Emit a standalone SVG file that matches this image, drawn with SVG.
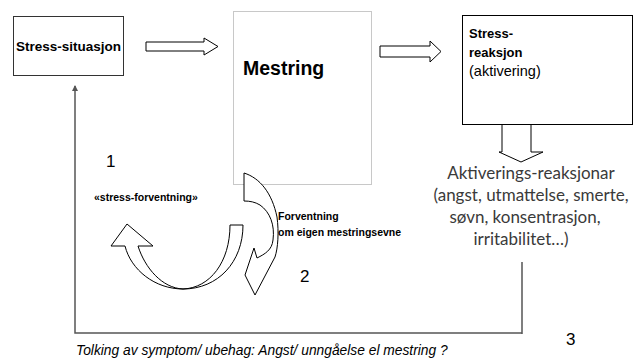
<svg xmlns="http://www.w3.org/2000/svg" width="643" height="360" viewBox="0 0 643 360">
<style>
.box{fill:#fff;stroke:#333;stroke-width:1}
.blk{fill:#fff;stroke:#000;stroke-width:1;stroke-linejoin:miter}
.ln{fill:none;stroke:#555;stroke-width:1.5}
.b{font-family:"Liberation Sans",Arial,sans-serif;font-weight:bold;fill:#000}
.r{font-family:"Liberation Sans",Arial,sans-serif;fill:#000}
.g{font-family:Lato,"Liberation Sans",sans-serif;fill:#3a3a3a;font-size:17px}
.num{font-family:"Liberation Sans",Arial,sans-serif;font-size:17px;fill:#000}
</style>
<defs>
<marker id="ah" markerWidth="6" markerHeight="6" refX="5" refY="3" orient="auto" markerUnits="userSpaceOnUse">
<path d="M0,0 L6,3 L0,6 Z" fill="#555"/>
</marker>
</defs>
<rect width="643" height="360" fill="#fff"/>

<g id="connectors">
<path class="ln" d="M522,262 L522,334"/>
<path class="ln" d="M522,333 L75,333 L75,86" marker-end="url(#ah)"/>
<path id="arrow1" class="blk" d="M146,42 L204,42 L204,38 L218,46.5 L204,55 L204,51 L146,51 Z"/>
<path id="arrow2" class="blk" d="M380,46 L430,46 L430,41 L441,51.5 L430,62 L430,57 L380,57 Z"/>
<path id="arrow3" class="blk" d="M502,124 L531,124 L531,152 L543,152 L521,162 L499,152 L502,152 Z"/>
</g>

<g id="stress-situasjon">
<rect class="box" x="13.5" y="16.5" width="110" height="59"/>
<text class="b" x="68.5" y="51" font-size="13.5" text-anchor="middle">Stress-situasjon</text>
</g>

<g id="mestring">
<rect x="233.5" y="11.5" width="138" height="173" fill="#fff" stroke="#c8c8c8" stroke-width="1"/>
<text class="b" x="243" y="75" font-size="19.5">Mestring</text>
</g>

<g id="stress-reaksjon">
<rect x="462.5" y="15.5" width="170" height="109" fill="#fff" stroke="#000" stroke-width="1"/>
<text class="b" x="469" y="38" font-size="13">Stress-</text>
<text class="b" x="469" y="57" font-size="13">reaksjon</text>
<text class="r" x="469" y="76" font-size="14.5">(aktivering)</text>
</g>

<g id="aktivering">
<text class="g" x="531" y="179" text-anchor="middle">Aktiverings-reaksjonar</text>
<text class="g" x="531" y="201" text-anchor="middle">(angst, utmattelse, smerte,</text>
<text class="g" x="525" y="223" text-anchor="middle">søvn, konsentrasjon,</text>
<text class="g" x="521" y="245" text-anchor="middle">irritabilitet…)</text>
</g>

<g id="curved-left">
<path class="blk" d="M243,225 C243,262 218,289 183,289 C155,289 131,270 125,246 L111,246 L127,224 L153,246 L138,246 C145,268 162,288 183,289 C210,288 230,262 230,225 Z"/>
</g>

<g id="curved-right">
<path class="blk" d="M244,173 C260,178 272,193 277,217 C279,232 278,248 275,257 L255,295 L245,275 L254,248 L257,258 C265,254 272,250 273,240 C275,225 270,212 260,205 C255,202 250,201 244,201 Z"/>
</g>

<g id="labels">
<text class="num" x="106" y="167">1</text>
<text class="b" x="94" y="201" font-size="10.5">«stress-forventning»</text>
<text class="b" x="278" y="220" font-size="10.5">Forventning</text>
<text class="b" x="278" y="236" font-size="10.5">om eigen mestringsevne</text>
<text class="num" x="300" y="282">2</text>
<text class="num" x="566" y="345">3</text>
<text class="r" x="76" y="355" font-size="13.8" font-style="italic">Tolking av symptom/ ubehag: Angst/ unngåelse el mestring ?</text>
</g>
</svg>
